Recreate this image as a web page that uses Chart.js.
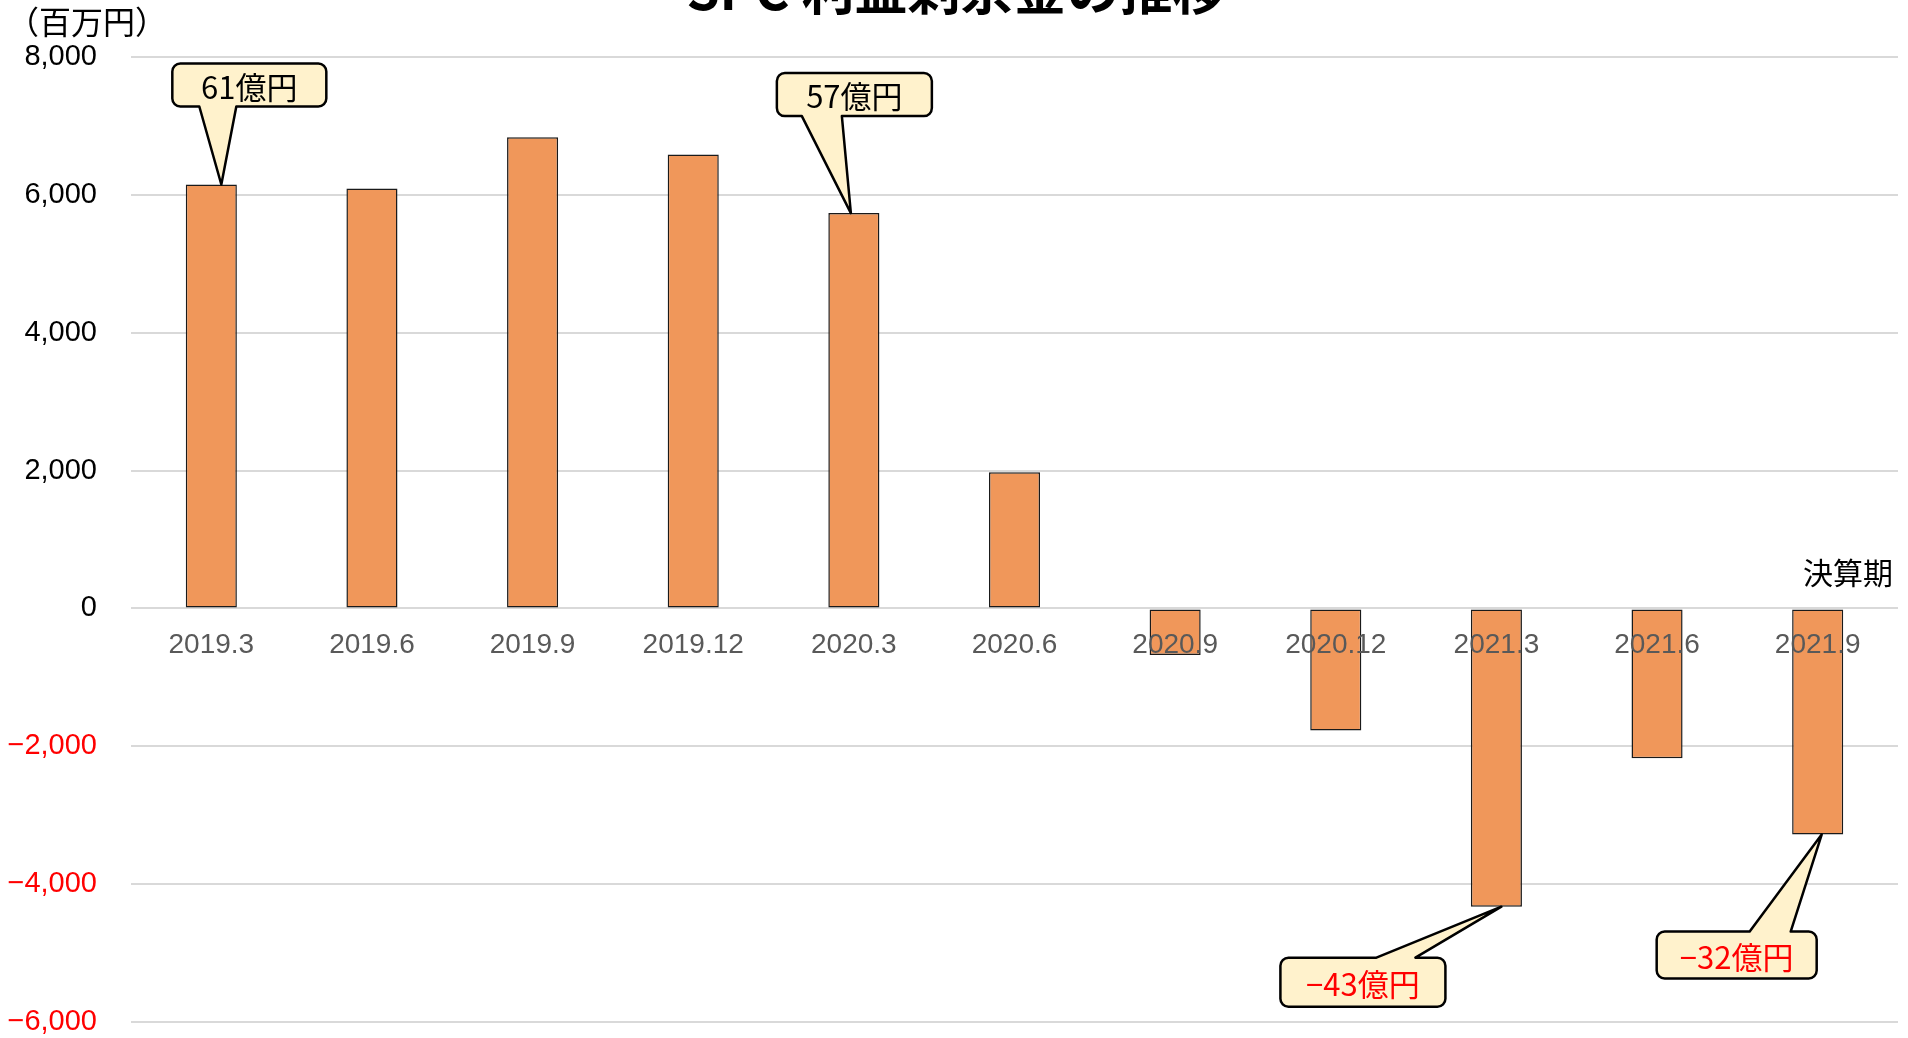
<!DOCTYPE html>
<html>
<head>
<meta charset="utf-8">
<script src="https://cdn.jsdelivr.net/npm/chart.js@4.4.1/dist/chart.umd.min.js"></script>
<style>
  body { margin: 0; background: #fff; }
  canvas { display: block; }
</style>
</head>
<body>
<canvas id="chart" width="1908" height="1038"></canvas>
<script>
// 決算期ごとの利益剰余金（百万円）
const periods = ['2019.3', '2019.6', '2019.9', '2019.12', '2020.3', '2020.6',
  '2020.9', '2020.12', '2021.3', '2021.6', '2021.9'];
const retained = [6150, 6092, 6834, 6587, 5735, 1976, -674, -1770, -4327, -2175, -3281];

const yTicks = [-6000, -4000, -2000, 0, 2000, 4000, 6000, 8000];

// 吹き出し
const calloutIdx = [0, 4, 8, 10];
const calloutLabels = ['61億円', '57億円', '−43億円', '−32億円'];

const titleText = 'SPC 利益剰余金の推移';
const unitText = '（百万円）';
const axisName = '決算期';

const CJK = '"Noto Sans CJK JP", "Noto Sans", sans-serif';
const NUM = '"Liberation Sans", Arial, sans-serif';

// box offsets relative to the bar end point
const calloutGeom = [
  { dx: -39, dy: -121, w: 154, h: 43, t0: 27, t1: 64, tip: 10 },
  { dx: -77, dy: -140, w: 155, h: 43, t0: 25, t1: 65, tip: -3 },
  { dx: -216, dy: 51, w: 165, h: 49, t0: 96, t1: 135, tip: 5 },
  { dx: -161, dy: 97, w: 160, h: 47, t0: 93, t1: 134, tip: 4 }
];

function fmt(v) {
  const s = Math.abs(v).toLocaleString('en-US');
  return v < 0 ? '\u2212' + s : s;
}

function drawCallout(ctx, bx, by, g, label, red) {
  const x = bx + g.dx, y = by + g.dy, w = g.w, h = g.h, r = 8;
  const tipX = bx + g.tip, tipY = by;
  const below = g.dy < 0; // tail on bottom edge when box sits above the bar
  ctx.beginPath();
  ctx.moveTo(x + r, y);
  if (!below) {
    ctx.lineTo(x + g.t0, y);
    ctx.lineTo(tipX, tipY);
    ctx.lineTo(x + g.t1, y);
  }
  ctx.lineTo(x + w - r, y);
  ctx.arcTo(x + w, y, x + w, y + r, r);
  ctx.lineTo(x + w, y + h - r);
  ctx.arcTo(x + w, y + h, x + w - r, y + h, r);
  if (below) {
    ctx.lineTo(x + g.t1, y + h);
    ctx.lineTo(tipX, tipY);
    ctx.lineTo(x + g.t0, y + h);
  }
  ctx.lineTo(x + r, y + h);
  ctx.arcTo(x, y + h, x, y + h - r, r);
  ctx.lineTo(x, y + r);
  ctx.arcTo(x, y, x + r, y, r);
  ctx.closePath();
  ctx.fillStyle = '#FFF2CC';
  ctx.fill();
  ctx.lineWidth = 2.5;
  ctx.lineJoin = 'round';
  ctx.strokeStyle = '#000';
  ctx.stroke();

  ctx.fillStyle = red ? '#FF0000' : '#000';
  ctx.font = '31px ' + CJK;
  ctx.textAlign = 'center';
  ctx.textBaseline = 'middle';
  ctx.fillText(label, x + w / 2, y + h / 2 + 2);
}

const overlay = {
  id: 'overlay',
  afterDraw(chart) {
    const ctx = chart.ctx;
    ctx.save();
    // タイトル（上端で切れている）
    ctx.fillStyle = '#000';
    ctx.font = 'bold 53px ' + CJK;
    ctx.textAlign = 'center';
    ctx.textBaseline = 'alphabetic';
    ctx.fillText(titleText, 956, 10);

    ctx.font = '32px ' + CJK;
    ctx.textAlign = 'left';
    ctx.textBaseline = 'middle';
    ctx.fillText(unitText, 7, 22);

    ctx.font = '30px ' + CJK;
    ctx.textAlign = 'right';
    ctx.fillText(axisName, 1893, 573);

    const bars = chart.getDatasetMeta(0).data;
    calloutIdx.forEach((idx, k) => {
      const bar = bars[idx];
      drawCallout(ctx, bar.x, bar.y, calloutGeom[k], calloutLabels[k], retained[idx] < 0);
    });
    ctx.restore();
  }
};

new Chart(document.getElementById('chart'), {
  type: 'bar',
  data: {
    labels: periods,
    datasets: [{
      data: retained,
      backgroundColor: '#F0975A',
      borderColor: '#1a1a1a',
      borderWidth: 1.5,
      borderSkipped: false,
      categoryPercentage: 1,
      barPercentage: 0.318
    }]
  },
  options: {
    responsive: false,
    devicePixelRatio: 1,
    animation: false,
    layout: { padding: { top: 57, right: 10, bottom: 16, left: 0 } },
    plugins: {
      legend: { display: false },
      title: { display: false },
      tooltip: { enabled: false }
    },
    scales: {
      x: {
        position: { y: 0 },
        offset: true,
        afterFit(scale) { scale.height = 0; },
        grid: { display: false },
        border: { display: false },
        ticks: {
          z: 1,
          color: '#595959',
          font: { family: NUM, size: 28 },
          padding: 12,
          maxRotation: 0,
          autoSkip: false
        }
      },
      y: {
        min: -6000,
        max: 8000,
        afterBuildTicks(scale) {
          scale.ticks = yTicks.map(v => ({ value: v }));
        },
        afterFit(scale) {
          scale.width = 131;
          scale.paddingTop = 0;
          scale.paddingBottom = 0;
        },
        grid: { color: '#D9D9D9', lineWidth: 2, drawTicks: false },
        border: { display: false },
        ticks: {
          padding: 34,
          font: { family: NUM, size: 29 },
          color: ctx => (ctx.tick && ctx.tick.value < 0 ? '#FF0000' : '#000'),
          callback: v => fmt(v)
        }
      }
    }
  },
  plugins: [overlay]
});
</script>
</body>
</html>
